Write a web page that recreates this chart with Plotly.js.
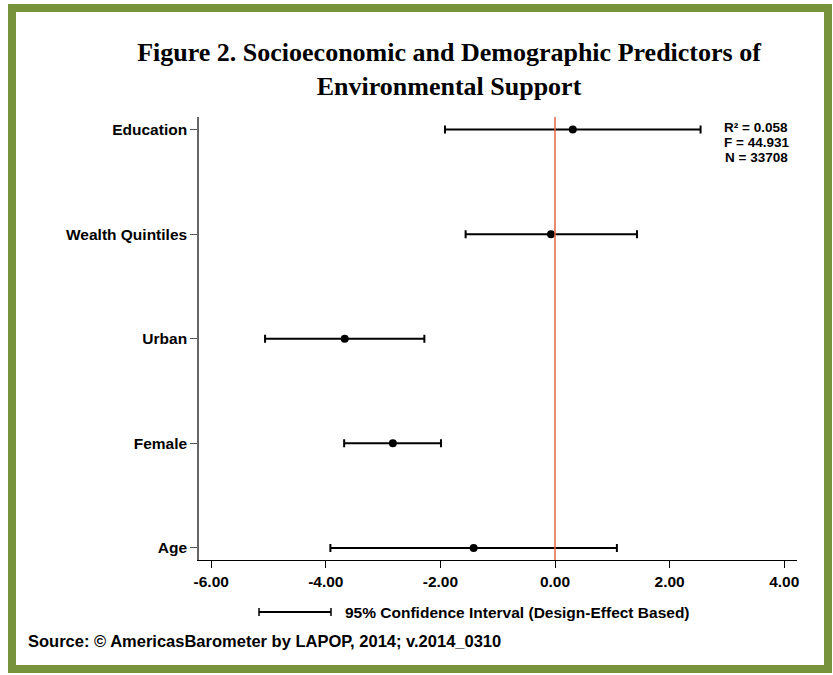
<!DOCTYPE html>
<html>
<head>
<meta charset="utf-8">
<script src="https://cdn.plot.ly/plotly-3.0.1.min.js"></script>
<style>html,body{margin:0;padding:0;background:#fff;}#chart{width:833px;height:675px;}</style>
</head>
<body>
<div id="chart"></div>
<script>
// Data
const predictors = ["Education", "Wealth Quintiles", "Urban", "Female", "Age"];
const coefficients = [0.31, -0.07, -3.67, -2.83, -1.42];
const ciLower = [-1.92, -1.56, -5.06, -3.68, -3.92];
const ciUpper = [2.54, 1.43, -2.28, -1.99, 1.08];
const xTickValues = [-6, -4, -2, 0, 2, 4];
const xTickLabels = ["-6.00", "-4.00", "-2.00", "0.00", "2.00", "4.00"];
const statsText = ["R\u00B2 = 0.058", "F = 44.931", "N = 33708"];
const titleLines = ["Figure 2. Socioeconomic and Demographic Predictors of", "Environmental Support"];
const legendText = "95% Confidence Interval (Design-Effect Based)";
const sourceText = "Source: \u00A9 AmericasBarometer by LAPOP, 2014; v.2014_0310";

const SANS = "Liberation Sans, Arial, sans-serif";

const trace = {
  type: "scatter",
  mode: "markers",
  x: coefficients,
  y: predictors,
  marker: {color: "#000", size: 8},
  error_x: {
    type: "data",
    symmetric: false,
    array: coefficients.map((c, i) => ciUpper[i] - c),
    arrayminus: coefficients.map((c, i) => c - ciLower[i]),
    color: "#000",
    thickness: 2,
    width: 4
  },
  hoverinfo: "x+y",
  showlegend: false
};

const W = 833, H = 675, L = 199, R = 36, T = 117, B = 115;
const pw = W - L - R, ph = H - T - B;
const px = v => (v - L) / pw;          // pixel x -> paper x
const py = v => (H - B - v) / ph;      // pixel y -> paper y

const statsAnnotations = statsText.map((t, i) => ({
  xref: "paper", yref: "paper", x: px(756), y: py(127 + 15 * i), xanchor: "center", yanchor: "middle",
  text: t, showarrow: false,
  font: {family: SANS, size: 13.5, color: "#000", weight: "bold"}
}));

const layout = {
  width: W, height: H,
  margin: {l: L, r: R, t: T, b: B, pad: 0},
  paper_bgcolor: "#fff",
  plot_bgcolor: "#fff",
  font: {family: SANS, color: "#000"},
  title: {
    text: titleLines.join("<br>"),
    font: {family: "Liberation Serif, Times New Roman, serif", size: 26, color: "#000", weight: "bold"},
    xref: "container", x: 449 / W, xanchor: "center",
    yref: "container", y: 1 - 61 / H, yanchor: "middle"
  },
  xaxis: {
    range: [-6.213, 4.223],
    tickvals: xTickValues,
    ticktext: xTickLabels,
    ticks: "outside", ticklen: 7, tickwidth: 1, tickcolor: "#000",
    showline: true, linecolor: "#000", linewidth: 1,
    showgrid: false, zeroline: false,
    tickfont: {family: SANS, size: 15.5, color: "#000", weight: "bold"},
    fixedrange: true
  },
  yaxis: {
    type: "category",
    categoryorder: "array",
    categoryarray: predictors.slice().reverse(),
    range: [-0.115, 4.12],
    ticks: "outside", ticklen: 7, tickwidth: 1, tickcolor: "#555",
    showline: true, linecolor: "#666", linewidth: 1.5,
    showgrid: false, zeroline: false,
    tickfont: {family: SANS, size: 15.5, color: "#000", weight: "bold"},
    fixedrange: true
  },
  shapes: [
    // zero reference line
    {type: "line", xref: "x", yref: "paper", x0: 0, x1: 0, y0: 0, y1: 1,
     line: {color: "#e4663f", width: 1.5}},
    // legend sample error bar
    {type: "line", xref: "paper", yref: "paper", x0: px(259), x1: px(331), y0: py(612), y1: py(612),
     line: {color: "#000", width: 2}},
    {type: "line", xref: "paper", yref: "paper", x0: px(259), x1: px(259), y0: py(608), y1: py(616),
     line: {color: "#000", width: 1.5}},
    {type: "line", xref: "paper", yref: "paper", x0: px(331), x1: px(331), y0: py(608), y1: py(616),
     line: {color: "#000", width: 1.5}},
    // green frame
    {type: "rect", xref: "paper", yref: "paper", x0: px(12), x1: px(828), y0: py(669), y1: py(8),
     line: {color: "#77933c", width: 8}, fillcolor: "rgba(0,0,0,0)", layer: "above"}
  ],
  annotations: statsAnnotations.concat([
    {xref: "paper", yref: "paper", x: px(343), y: py(612), xanchor: "left", yanchor: "middle",
     text: legendText, showarrow: false,
     font: {family: SANS, size: 15.5, color: "#000", weight: "bold"}},
    {xref: "paper", yref: "paper", x: px(26), y: py(641), xanchor: "left", yanchor: "middle",
     text: sourceText, showarrow: false,
     font: {family: SANS, size: 16.5, color: "#000", weight: "bold"}}
  ])
};

Plotly.newPlot("chart", [trace], layout, {displayModeBar: false, staticPlot: false});
</script>
</body>
</html>
